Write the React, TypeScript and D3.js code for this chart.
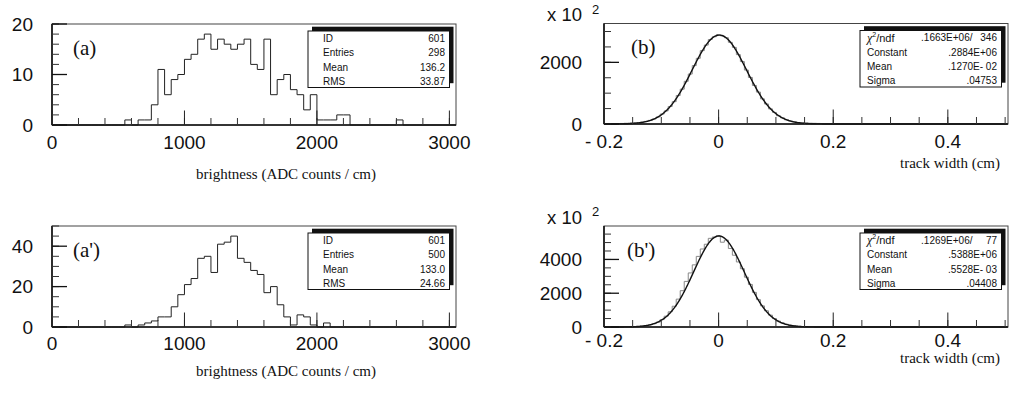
import React from 'react';
import * as d3 from 'd3';

// ---------- data ----------
// brightness histograms: bins of 50 ADC counts/cm starting at 0
const brightnessBinStart = 0;
const brightnessBinWidth = 50;
const aCounts = [
  0, 0, 0, 0, 0, 0, 0, 0, 0, 0, 0, 1, 0, 1, 1, 4, 11, 6, 9, 10,
  13, 14, 17, 18, 15, 17, 16, 15, 16, 17, 12, 11, 17, 6, 9, 10, 7, 6, 3, 6,
  1, 1, 1, 2, 2, 0, 0, 0, 0, 0, 0, 0, 1, 0, 0, 0, 0, 0, 0, 0, 0,
];
const aPrimeCounts = [
  0, 0, 0, 0, 0, 0, 0, 0, 0, 0, 0, 1, 0, 1, 2, 3, 5, 5, 10, 16,
  21, 24, 34, 35, 27, 41, 42, 45, 34, 32, 28, 26, 17, 20, 11, 5, 1, 6, 5, 1,
  0, 2, 0, 0, 0, 0, 0, 0, 0, 0, 0, 0, 0, 0, 0, 0, 0, 0, 0, 0, 0,
];
// track width histograms (x 10^2 entries): bins of 0.007 cm starting at -0.2
const widthBinStart = -0.2;
const widthBinWidth = 0.007;
const bCounts = [
  3, 6, 10, 14, 18, 24, 30, 38, 48, 62, 85, 118, 166, 228, 322, 425, 568, 725, 925, 1130,
  1385, 1620, 1895, 2130, 2380, 2560, 2740, 2830, 2895, 2860, 2800, 2650, 2485, 2250, 2025, 1750, 1510, 1250, 1035, 815,
  650, 490, 375, 268, 200, 135, 98, 68, 48, 36, 30, 26, 22, 18, 14, 10, 7, 5, 3, 2,
  1, 0, 0, 0, 0, 0, 0, 0, 0, 0, 0, 0, 0, 0, 0, 0, 0, 0, 0, 0,
  0, 0, 0, 0, 0, 0, 0, 0, 0, 0, 0, 0, 0, 0, 0, 0, 0, 0, 0, 0,
];
const bPrimeCounts = [
  0, 0, 1, 2, 3, 5, 10, 18, 30, 50, 80, 125, 195, 290, 440, 640, 900, 1230, 1650, 2150,
  2700, 3200, 3680, 4180, 4620, 4900, 5250, 5330, 5400, 5020, 5150, 4650, 4250, 3850, 3450, 2950, 2520, 2050, 1620, 1250,
  960, 700, 500, 350, 240, 160, 100, 65, 40, 25, 15, 8, 5, 3, 2, 0, 0, 0, 0, 0,
  0, 0, 0, 0, 0, 0, 0, 0, 0, 0, 0, 0, 0, 0, 0, 0, 0, 0, 0, 0,
  0, 0, 0, 0, 0, 0, 0, 0, 0, 0, 0, 0, 0, 0, 0, 0, 0, 0, 0, 0,
];

const brightnessTicks = [0, 1000, 2000, 3000];
const brightnessTickLabels = ['0', '1000', '2000', '3000'];
const widthTicks = [-0.2, 0, 0.2, 0.4];
const widthTickLabels = ['- 0.2', '0', '0.2', '0.4'];
const aYTicks = [0, 10, 20];
const aPrimeYTicks = [0, 20, 40];
const bYTicks = [0, 2000];
const bPrimeYTicks = [0, 2000, 4000];

const aStats: [string, string][] = [['ID', '601'], ['Entries', '298'], ['Mean', '136.2'], ['RMS', '33.87']];
const aPrimeStats: [string, string][] = [['ID', '601'], ['Entries', '500'], ['Mean', '133.0'], ['RMS', '24.66']];
const bStats: [string, string, string][] = [['chi', '.1663E+06/', '346'], ['Constant', '', '.2884E+06'], ['Mean', '', '.1270E- 02'], ['Sigma', '', '.04753']];
const bPrimeStats: [string, string, string][] = [['chi', '.1269E+06/', '77'], ['Constant', '', '.5388E+06'], ['Mean', '', '.5528E- 03'], ['Sigma', '', '.04408']];

// Gaussian fit parameters (constant in axis units of 10^2)
const bFit = { constant: 2884, mean: 0.00127, sigma: 0.04753 };
const bPrimeFit = { constant: 5388, mean: 0.0005528, sigma: 0.04408 };

// ---------- drawing ----------
const SANS = "'Liberation Sans', Arial, Helvetica, sans-serif";
const SERIF = "'Liberation Serif', 'Times New Roman', serif";

type Frame = { x0: number; x1: number; y0: number; y1: number };

interface PanelProps {
  frame: Frame;
  xDomain: [number, number];
  yDomain: [number, number];
  binStart: number;
  binWidth: number;
  counts: number[];
  histColor: string;
  xMajor: number[];
  xMajorLabels: string[];
  xMinorStep: number;
  yMajor: number[];
  yMinorStep: number;
  xLabelY: number;
  yLabelX: number;
  tag: string;
  tagX: number;
  tagY: number;
  title: string;
  titleX: number;
  titleY: number;
  titleAnchor: 'start' | 'end';
  exponent?: boolean;
  fit?: { constant: number; mean: number; sigma: number };
  stats?: [string, string][];
  fitStats?: [string, string, string][];
}

function Panel(p: PanelProps) {
  const { frame } = p;
  const x = d3.scaleLinear().domain(p.xDomain).range([frame.x0, frame.x1]);
  const y = d3.scaleLinear().domain(p.yDomain).range([frame.y1, frame.y0]);

  // histogram step path
  const pts: [number, number][] = [];
  pts.push([p.binStart, 0]);
  p.counts.forEach((c, i) => {
    const lo = p.binStart + i * p.binWidth;
    const hi = lo + p.binWidth;
    pts.push([lo, c]);
    pts.push([hi, c]);
  });
  pts.push([p.binStart + p.counts.length * p.binWidth, 0]);
  const clipped = pts.map(([a, b]) => [Math.min(Math.max(a, p.xDomain[0]), p.xDomain[1]), b] as [number, number]);
  const histPath = d3.line<[number, number]>().x(d => x(d[0])).y(d => y(d[1]))(clipped) || '';

  let fitPath = '';
  if (p.fit) {
    const f = p.fit;
    const xs = d3.range(p.xDomain[0], p.xDomain[1], 0.001);
    fitPath = d3.line<number>()
      .x(v => x(v))
      .y(v => y(f.constant * Math.exp(-0.5 * ((v - f.mean) / f.sigma) ** 2)))(xs) || '';
  }

  const eps = 1e-9;
  const xMinor = d3.range(p.xDomain[0], p.xDomain[1] + eps, p.xMinorStep);
  const yMinor = d3.range(p.yDomain[0], p.yDomain[1] + eps, p.yMinorStep);

  const boxX0 = frame.x1 - 148;
  const boxX1 = frame.x1 - 6.5;
  const boxY0 = frame.y0 + 7;
  const boxY1 = boxY0 + 56.5;
  const rowYs = [7.3, 21.5, 36, 50].map(d => boxY0 + d);

  return (
    <g>
      {/* histogram */}
      <path d={histPath} fill="none" stroke={p.histColor} strokeWidth={1} />
      {fitPath && <path d={fitPath} fill="none" stroke="#111" strokeWidth={1.4} />}
      {/* frame */}
      <rect x={frame.x0} y={frame.y0} width={frame.x1 - frame.x0} height={frame.y1 - frame.y0}
        fill="none" stroke="#444" strokeWidth={1} />
      <line x1={frame.x0} x2={frame.x0} y1={frame.y0} y2={frame.y1} stroke="#111" strokeWidth={1.6} />
      <line x1={frame.x0} x2={frame.x1} y1={frame.y1} y2={frame.y1} stroke="#111" strokeWidth={1.6} />
      {/* x ticks */}
      {xMinor.map((v, i) => (
        <line key={'xm' + i} x1={x(v)} x2={x(v)} y1={frame.y1} y2={frame.y1 - 7} stroke="#333" strokeWidth={1} />
      ))}
      {p.xMajor.map((v, i) => (
        <line key={'xM' + i} x1={x(v)} x2={x(v)} y1={frame.y1} y2={frame.y1 - 14.5} stroke="#222" strokeWidth={1} />
      ))}
      {/* y ticks */}
      {yMinor.map((v, i) => (
        <line key={'ym' + i} x1={frame.x0} x2={frame.x0 + 7} y1={y(v)} y2={y(v)} stroke="#333" strokeWidth={1} />
      ))}
      {p.yMajor.map((v, i) => (
        <line key={'yM' + i} x1={frame.x0} x2={frame.x0 + 15} y1={y(v)} y2={y(v)} stroke="#111" strokeWidth={1.3} />
      ))}
      {/* tick labels */}
      {p.xMajor.map((v, i) => (
        <text key={'xl' + i} x={x(v)} y={p.xLabelY} textAnchor="middle" dominantBaseline="central"
          fontFamily={SANS} fontSize={19} fill="#111">{p.xMajorLabels[i]}</text>
      ))}
      {p.yMajor.map((v, i) => (
        <text key={'yl' + i} x={p.yLabelX} y={y(v)} textAnchor="end" dominantBaseline="central"
          fontFamily={SANS} fontSize={19} fill="#111">{String(v)}</text>
      ))}
      {p.exponent && (
        <text x={p.yLabelX} y={frame.y0 - 2.5} textAnchor="end" fontFamily={SANS} fontSize={18.5} fill="#111">
          x 10
        </text>
      )}
      {p.exponent && (
        <text x={p.yLabelX + 10} y={frame.y0 - 10} textAnchor="start" fontFamily={SANS} fontSize={13} fill="#111">
          2
        </text>
      )}
      {/* tag */}
      <text x={p.tagX} y={p.tagY} dominantBaseline="central" fontFamily={SERIF} fontSize={21} fill="#111">{p.tag}</text>
      {/* axis title */}
      <text x={p.titleX} y={p.titleY} dominantBaseline="central" textAnchor={p.titleAnchor}
        fontFamily={SERIF} fontSize={15} fill="#111">{p.title}</text>
      {/* stats box */}
      {(p.stats || p.fitStats) && (
        <g>
          <rect x={boxX0 + 4} y={boxY0 - 4.3} width={boxX1 - boxX0} height={boxY1 - boxY0} fill="#111" />
          <rect x={boxX0} y={boxY0} width={boxX1 - boxX0} height={boxY1 - boxY0} fill="#fff" stroke="#111" strokeWidth={1} />
          {p.stats && p.stats.map((r, i) => (
            <g key={'s' + i}>
              <text x={boxX0 + 15} y={rowYs[i]} dominantBaseline="central" fontFamily={SANS} fontSize={10} fill="#111">{r[0]}</text>
              <text x={boxX1 - 4.5} y={rowYs[i]} dominantBaseline="central" textAnchor="end" fontFamily={SANS} fontSize={10} fill="#111">{r[1]}</text>
            </g>
          ))}
          {p.fitStats && p.fitStats.map((r, i) => (
            <g key={'f' + i}>
              {r[0] === 'chi' ? (
                <text x={boxX0 + 7} y={rowYs[i]} dominantBaseline="central" fontFamily={SANS} fontSize={11} fill="#111">
                  <tspan fontFamily={SERIF} fontStyle="italic" fontSize={12}>χ</tspan>
                  <tspan fontSize={7} dy={-4}>2</tspan>
                  <tspan dy={4}>/ndf</tspan>
                </text>
              ) : (
                <text x={boxX0 + 7} y={rowYs[i]} dominantBaseline="central" fontFamily={SANS} fontSize={10} fill="#111">{r[0]}</text>
              )}
              {r[1] && (
                <text x={boxX1 - 29} y={rowYs[i]} dominantBaseline="central" textAnchor="end" fontFamily={SANS} fontSize={10} fill="#111">{r[1]}</text>
              )}
              <text x={boxX1 - 4.5} y={rowYs[i]} dominantBaseline="central" textAnchor="end" fontFamily={SANS} fontSize={10} fill="#111">{r[2]}</text>
            </g>
          ))}
        </g>
      )}
    </g>
  );
}

export default function App() {
  const brightXDomain: [number, number] = [0, 3050];
  const widthXDomain: [number, number] = [-0.2, 0.505];
  return (
    <svg width={1011} height={406} viewBox="0 0 1011 406"
      style={{ position: 'absolute', left: 0, top: 0, background: '#fff' }}>
      <rect x={0} y={0} width={1011} height={406} fill="#fff" />
      <Panel
        frame={{ x0: 52, x1: 456, y0: 24, y1: 125 }}
        xDomain={brightXDomain} yDomain={[0, 20]}
        binStart={brightnessBinStart} binWidth={brightnessBinWidth} counts={aCounts} histColor="#222"
        xMajor={brightnessTicks} xMajorLabels={brightnessTickLabels} xMinorStep={200}
        yMajor={aYTicks} yMinorStep={2}
        xLabelY={142} yLabelX={33}
        tag="(a)" tagX={73} tagY={48}
        title="brightness (ADC counts / cm)" titleX={196} titleY={174} titleAnchor="start"
        stats={aStats}
      />
      <Panel
        frame={{ x0: 52, x1: 456, y0: 226, y1: 327 }}
        xDomain={brightXDomain} yDomain={[0, 50]}
        binStart={brightnessBinStart} binWidth={brightnessBinWidth} counts={aPrimeCounts} histColor="#222"
        xMajor={brightnessTicks} xMajorLabels={brightnessTickLabels} xMinorStep={200}
        yMajor={aPrimeYTicks} yMinorStep={5}
        xLabelY={343} yLabelX={33}
        tag="(a')" tagX={73} tagY={250}
        title="brightness (ADC counts / cm)" titleX={196} titleY={371} titleAnchor="start"
        stats={aPrimeStats}
      />
      <Panel
        frame={{ x0: 604, x1: 1008, y0: 23.5, y1: 124 }}
        xDomain={widthXDomain} yDomain={[0, 3260]}
        binStart={widthBinStart} binWidth={widthBinWidth} counts={bCounts} histColor="#888"
        xMajor={widthTicks} xMajorLabels={widthTickLabels} xMinorStep={0.05}
        yMajor={bYTicks} yMinorStep={500}
        xLabelY={141} yLabelX={582}
        tag="(b)" tagX={631} tagY={47}
        title="track width (cm)" titleX={1000} titleY={163} titleAnchor="end"
        exponent fit={bFit} fitStats={bStats}
      />
      <Panel
        frame={{ x0: 604, x1: 1008, y0: 226, y1: 327 }}
        xDomain={widthXDomain} yDomain={[0, 5980]}
        binStart={widthBinStart} binWidth={widthBinWidth} counts={bPrimeCounts} histColor="#888"
        xMajor={widthTicks} xMajorLabels={widthTickLabels} xMinorStep={0.05}
        yMajor={bPrimeYTicks} yMinorStep={500}
        xLabelY={340} yLabelX={582}
        tag="(b')" tagX={627} tagY={250}
        title="track width (cm)" titleX={1000} titleY={358} titleAnchor="end"
        exponent fit={bPrimeFit} fitStats={bPrimeStats}
      />
    </svg>
  );
}
